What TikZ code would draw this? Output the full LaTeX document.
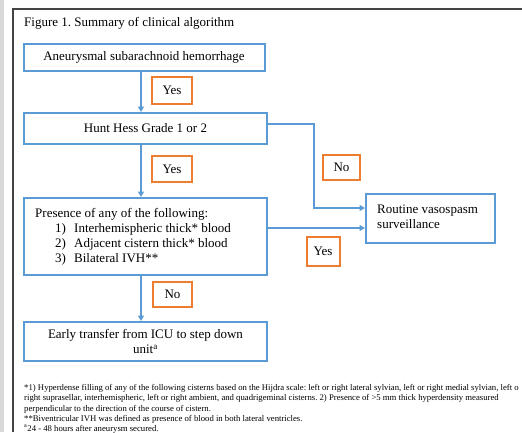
\documentclass[tikz,border=0pt]{standalone}
\usepackage{fontspec}
\setmainfont{Liberation Serif}
\usetikzlibrary{arrows.meta}
\definecolor{bblue}{HTML}{5B9BD5}
\definecolor{orng}{HTML}{ED7D31}
\definecolor{framec}{HTML}{444444}
\frenchspacing
\begin{document}
\begin{tikzpicture}[x=1pt,y=-1pt,
  box/.style={draw=bblue,line width=2pt,inner sep=0pt,font=\fontsize{13}{15}\selectfont},
  lab/.style={draw=orng,line width=2pt,inner sep=0pt,font=\fontsize{13}{15}\selectfont},
  txt/.style={inner sep=0pt,font=\fontsize{13}{15}\selectfont},
  arr/.style={draw=bblue,line width=1.8pt,-{Triangle[length=5.5pt,width=6pt]}},
  foot/.style={anchor=base west,inner sep=0pt,font=\fontsize{8.7}{10}\selectfont}]
\useasboundingbox (0,0) rectangle (522,432);
\fill[gray!30] (0,0) rectangle (4,432);
\draw[framec,line width=2pt] (13,432) -- (13,9) -- (522,9);

\node[txt,anchor=west] (title) at (24,23) {Figure 1. Summary of clinical algorithm};

\node[box,minimum width=241pt,minimum height=27pt] (b1) at (144,57.5) {Aneurysmal subarachnoid hemorrhage};
\node[box,minimum width=243pt,minimum height=31pt] (b2) at (145.5,128.5) {Hunt Hess Grade 1 or 2};
\node[box,minimum width=243pt,minimum height=77pt] (b3) at (145.5,236.5) {};
\node[txt,anchor=north west,align=left] (b3t) at (35,208)
  {Presence of any of the following:\\
   \hspace{20pt}\makebox[19pt][l]{1)}Interhemispheric thick* blood\\
   \hspace{20pt}\makebox[19pt][l]{2)}Adjacent cistern thick* blood\\
   \hspace{20pt}\makebox[19pt][l]{3)}Bilateral IVH**};
\node[box,minimum width=243pt,minimum height=39pt,align=center] (b4) at (145.5,341.5)
  {Early transfer from ICU to step down\\unit\textsuperscript{a}};
\node[box,minimum width=129pt,minimum height=49pt] (rv) at (430.5,218.5) {};
\node[txt,anchor=north west,align=left] (rvt) at (377,204.5) {Routine vasospasm\\surveillance};

\node[lab,minimum width=40pt,minimum height=27pt] (y1) at (172,90.5) {Yes};
\node[lab,minimum width=40pt,minimum height=26pt] (y2) at (172,169) {Yes};
\node[lab,minimum width=37pt,minimum height=25pt] (n3) at (341.5,167.5) {No};
\node[lab,minimum width=33pt,minimum height=29pt] (y3) at (323,251.5) {Yes};
\node[lab,minimum width=39pt,minimum height=25pt] (n4) at (172.5,294.5) {No};

\draw[arr] ([xshift=-3pt]b1.south) -- ([xshift=-3pt]b1.south |- b2.north);
\draw[arr] ([xshift=-4.5pt]b2.south) -- ([xshift=-4.5pt]b2.south |- b3.north);
\draw[arr] ([xshift=-4.5pt]b3.south) -- ([xshift=-4.5pt]b3.south |- b4.north);
\coordinate (c1) at (314,124);
\coordinate (rvin) at ([yshift=10.5pt]rv.west);
\draw[arr] ([yshift=4.5pt]b2.east) -- (c1) -- (c1 |- rvin) -- (rvin);
\draw[arr] ([yshift=8.5pt]b3.east) -- ([yshift=8.5pt]b3.east -| rv.west);

\node[foot] (f1) at (24,390.5) {*1) Hyperdense filling of any of the following cisterns based on the Hijdra scale: left or right lateral sylvian, left or right medial sylvian, left o};
\node[foot] (f2) at (24,400.8) {right suprasellar, interhemispheric, left or right ambient, and quadrigeminal cisterns. 2) Presence of {\textgreater}5 mm thick hyperdensity measured};
\node[foot] (f3) at (24,411) {perpendicular to the direction of the course of cistern.};
\node[foot] (f4) at (24,421.3) {**Biventricular IVH was defined as presence of blood in both lateral ventricles.};
\node[foot] (f5) at (24,431.3) {\textsuperscript{a}24 - 48 hours after aneurysm secured.};
\end{tikzpicture}
\end{document}
